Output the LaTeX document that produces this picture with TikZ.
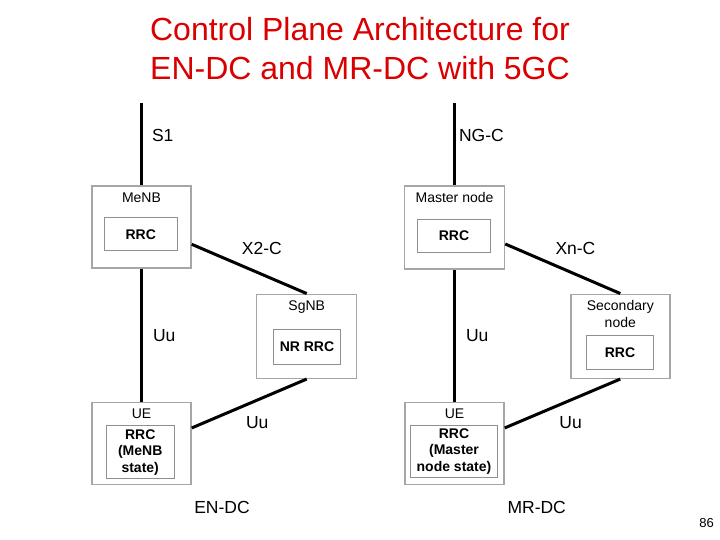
\documentclass[tikz,border=0pt]{standalone}
\usepackage{fontspec}
\setmainfont{Liberation Sans}
\usetikzlibrary{positioning}
\definecolor{ttlred}{HTML}{DA0000}
\definecolor{boxgray}{HTML}{A6A6A6}
\definecolor{innergray}{HTML}{8F8F8F}

\begin{document}
\begin{tikzpicture}[
  x=1pt, y=-1pt,
  outerbox/.style={draw=boxgray, line width=1.5pt, inner sep=0pt},
  innerbox/.style={draw=innergray, line width=1.3pt, fill=white, inner sep=0pt,
                   align=center, font=\fontsize{14}{16.7}\selectfont\bfseries},
  boxtitle/.style={inner sep=0pt, align=center, font=\fontsize{14}{16.7}\selectfont},
  link/.style={line width=3pt, black},
  lbl/.style={inner sep=2pt, font=\fontsize{17.5}{21}\selectfont},
  title/.style={inner sep=0pt, anchor=north, align=center, text=ttlred,
                font=\fontsize{32}{39}\selectfont},
]

  %% Page frame
  \fill[white] (0,0) rectangle (720,540);

  %% Title
  \node[title] (ttl) at (360,17) {Control Plane Architecture for\\EN-DC and MR-DC with 5GC};

  %% EN-DC: MeNB
  \node[outerbox, minimum width=99pt, minimum height=82pt] (menb) at (141.5,227) {};
  \node[boxtitle, below=7pt of menb.north] (menbt) {MeNB};
  \node[innerbox, minimum width=73pt, minimum height=33pt] (menbrrc) at (140.7,234.2) {RRC};

  %% EN-DC: SgNB
  \node[outerbox, minimum width=100pt, minimum height=84pt] (sgnb) at (306.7,336.3) {};
  \node[boxtitle, below=7pt of sgnb.north] (sgnbt) {SgNB};
  \node[innerbox, minimum width=67pt, minimum height=35pt] (sgnbrrc) at (307,346.7) {NR RRC};

  %% EN-DC: UE
  \node[outerbox, minimum width=99pt, minimum height=82pt] (uea) at (141.5,443.3) {};
  \node[boxtitle, below=7pt of uea.north] (ueat) {UE};
  \node[innerbox, minimum width=68pt, minimum height=53pt] (uearrc) at (140.2,452.3)
    {RRC\\(MeNB\\state)};

  %% MR-DC: Master node
  \node[outerbox, minimum width=100pt, minimum height=83pt] (mn) at (454.5,227.5) {};
  \node[boxtitle, below=7pt of mn.north] (mnt) {Master node};
  \node[innerbox, minimum width=73pt, minimum height=33pt] (mnrrc) at (454,236) {RRC};

  %% MR-DC: Secondary node
  \node[outerbox, minimum width=99pt, minimum height=84pt] (sn) at (620.3,336.3) {};
  \node[boxtitle, below=7pt of sn.north] (snt) {Secondary\\node};
  \node[innerbox, minimum width=67pt, minimum height=34pt] (snrrc) at (620,352.5) {RRC};

  %% MR-DC: UE
  \node[outerbox, minimum width=99pt, minimum height=82pt] (ueb) at (454.5,443.3) {};
  \node[boxtitle, below=7pt of ueb.north] (uebt) {UE};
  \node[innerbox, minimum width=87pt, minimum height=52pt] (uebrrc) at (454,451.5)
    {RRC\\(Master\\node state)};

  %% Core network ends
  \coordinate (s1top) at (141.5,103);
  \coordinate (ngctop) at (454.5,103);

  %% EN-DC links
  \draw[link] (s1top) -- node[lbl, right=7pt, pos=0.4] {S1} (menb);
  \draw[link] (menb) -- node[lbl, right=8pt] {Uu} (uea);
  \draw[link] (menb.-19) -- node[lbl, above=16pt, pos=0.61] {X2-C} (sgnb.north);
  \draw[link] (uea.17) -- node[lbl, below=13pt, pos=0.57] {Uu} (sgnb.south);

  %% MR-DC links
  \draw[link] (ngctop) -- node[lbl, right=1pt, pos=0.39] {NG-C} (mn);
  \draw[link] (mn) -- node[lbl, right=8pt] {Uu} (ueb);
  \draw[link] (mn.-18) -- node[lbl, above=16pt, pos=0.61] {Xn-C} (sn.north);
  \draw[link] (ueb.17) -- node[lbl, below=13pt, pos=0.57] {Uu} (sn.south);

  %% Captions
  \node[lbl] (endc) at (222,507.7) {EN-DC};
  \node[lbl] (mrdc) at (536.7,507.7) {MR-DC};
  \node[inner sep=0pt, font=\fontsize{13}{15}\selectfont] (pgno) at (706.5,522.7) {86};

\end{tikzpicture}
\end{document}
